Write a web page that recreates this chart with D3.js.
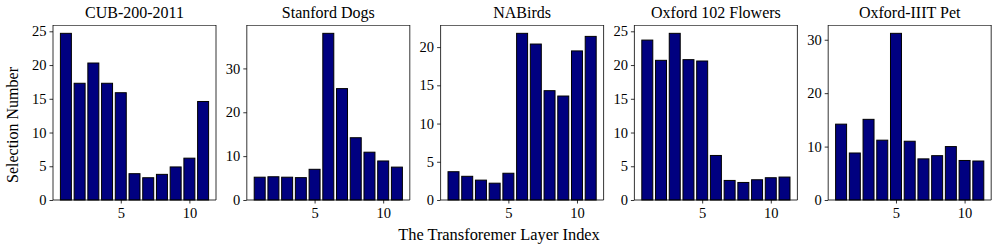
<!DOCTYPE html>
<html>
<head>
<meta charset="utf-8">
<script src="https://cdn.jsdelivr.net/npm/d3@7"></script>
<style>
  body { margin: 0; background: #fff; }
  text { font-family: "Liberation Serif", "DejaVu Serif", serif; fill: #000; }
</style>
</head>
<body>
<div id="chart"></div>
<script>
var size = { width: 995, height: 244 };

// layer index on the x axis
var layers = [1, 2, 3, 4, 5, 6, 7, 8, 9, 10, 11];

var titles = ["CUB-200-2011", "Stanford Dogs", "NABirds", "Oxford 102 Flowers", "Oxford-IIIT Pet"];

// selection counts per layer
var cubValues     = [24.7, 17.3, 20.3, 17.3, 15.9, 3.9, 3.3, 3.8, 4.9, 6.2, 14.6];
var dogsValues    = [5.2, 5.3, 5.2, 5.1, 7.0, 38.0, 25.4, 14.2, 10.9, 8.9, 7.5];
var nabirdsValues = [3.7, 3.1, 2.6, 2.2, 3.5, 21.8, 20.4, 14.3, 13.6, 19.5, 21.4];
var flowerValues  = [23.7, 20.7, 24.7, 20.8, 20.6, 6.6, 2.9, 2.6, 3.0, 3.3, 3.4];
var petValues     = [14.2, 8.8, 15.1, 11.2, 31.2, 11.0, 7.7, 8.3, 10.0, 7.4, 7.3];

var seriesList = [cubValues, dogsValues, nabirdsValues, flowerValues, petValues];
var yTicksList = [[0, 5, 10, 15, 20, 25], [0, 10, 20, 30], [0, 5, 10, 15, 20], [0, 5, 10, 15, 20, 25], [0, 10, 20, 30]];
var xTicks = [5, 10];

var barColor = "#000080";
var panelWidth = 163;
var panelStep = 193.8;
var firstLeft = 53;
var plotTop = 25, plotBottom = 200;
var plotHeight = plotBottom - plotTop;

var svg = d3.select("#chart").append("svg")
    .attr("width", size.width)
    .attr("height", size.height);

seriesList.forEach(function (values, i) {
    var left = firstLeft + i * panelStep;

    // matplotlib style limits: bars of width 0.8 plus 5% margin
    var x = d3.scaleLinear()
        .domain([0.06, 11.94])
        .range([0, panelWidth]);
    var y = d3.scaleLinear()
        .domain([0, d3.max(values) * 1.05])
        .range([plotHeight, 0]);

    var g = svg.append("g")
        .attr("transform", "translate(" + left + "," + plotTop + ")");

    // bars
    g.append("g").selectAll("rect")
        .data(values)
        .enter()
        .append("rect")
        .attr("x", function (d, j) { return x(layers[j] - 0.4); })
        .attr("width", x(0.8) - x(0))
        .attr("y", function (d) { return y(d); })
        .attr("height", function (d) { return y(0) - y(d); })
        .attr("fill", barColor)
        .attr("stroke", "#000")
        .attr("stroke-width", 1);

    // axes
    var yAxis = d3.axisLeft(y).tickValues(yTicksList[i]).tickSize(3.5).tickPadding(3);
    var xAxis = d3.axisBottom(x).tickValues(xTicks).tickSize(3.5).tickPadding(4);

    var ya = g.append("g").call(yAxis);
    var xa = g.append("g").attr("transform", "translate(0," + plotHeight + ")").call(xAxis);
    [ya, xa].forEach(function (a) {
        a.select(".domain").remove();
        a.selectAll("line").attr("stroke", "#000").attr("stroke-width", 0.8);
        a.selectAll("text").attr("fill", "#000")
            .style("font-size", "14.5px").style("font-family", "Liberation Serif, serif");
    });

    // frame
    g.append("line").attr("x1", 0).attr("x2", panelWidth).attr("y1", 0.5).attr("y2", 0.5)
        .attr("stroke", "#666").attr("stroke-width", 1.2);
    g.append("line").attr("x1", panelWidth).attr("x2", panelWidth).attr("y1", 0).attr("y2", plotHeight)
        .attr("stroke", "#000").attr("stroke-width", 0.8);
    g.append("line").attr("x1", 0).attr("x2", 0).attr("y1", 0).attr("y2", plotHeight)
        .attr("stroke", "#000").attr("stroke-width", 0.8);
    g.append("line").attr("x1", 0).attr("x2", panelWidth).attr("y1", plotHeight).attr("y2", plotHeight)
        .attr("stroke", "#000").attr("stroke-width", 0.8);

    // title
    svg.append("text")
        .attr("x", left + panelWidth / 2)
        .attr("y", 18)
        .attr("text-anchor", "middle")
        .style("font-size", "16px")
        .text(titles[i]);
});

// shared labels
svg.append("text")
    .attr("x", 499)
    .attr("y", 240)
    .attr("text-anchor", "middle")
    .style("font-size", "16.4px")
    .text("The Transforemer Layer Index");

svg.append("text")
    .attr("transform", "translate(18,125) rotate(-90)")
    .attr("text-anchor", "middle")
    .style("font-size", "16px")
    .text("Selection Number");
</script>
</body>
</html>
